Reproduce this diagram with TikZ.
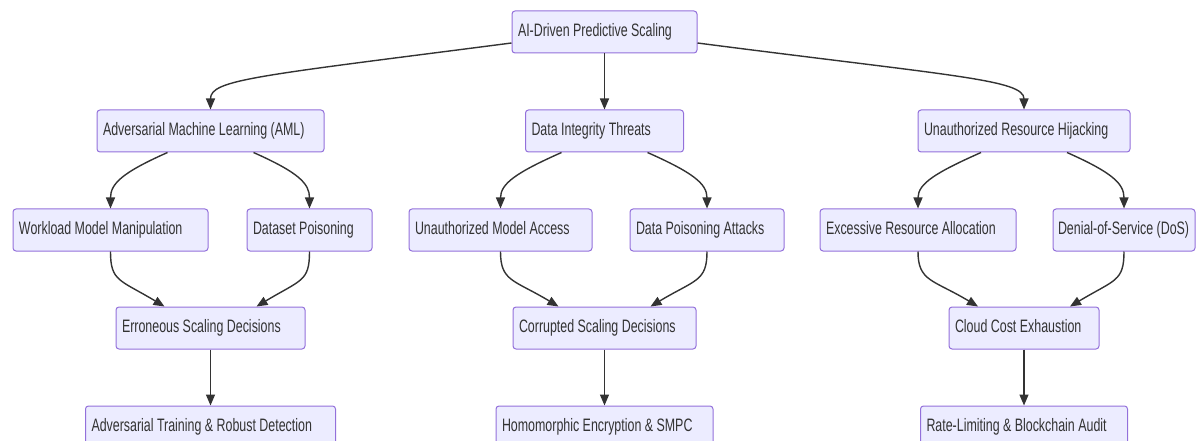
\documentclass[tikz,border=0pt]{standalone}
\usepackage{fontspec}
\setmainfont{Liberation Sans}[FakeStretch=0.69]
\usepackage{tikz}
\usetikzlibrary{arrows.meta,positioning}
\definecolor{boxfill}{HTML}{ECECFF}
\definecolor{boxline}{HTML}{9370DB}
\definecolor{edgegray}{HTML}{333333}

\begin{document}
\begin{tikzpicture}[
    node distance=56pt,
    block/.style={draw=boxline, fill=boxfill, line width=1pt, rounded corners=3pt,
                  text width=#1, align=flush left, inner xsep=6pt, inner ysep=0pt,
                  text height=13pt, text depth=4pt, minimum height=42pt,
                  font=\fontsize{18}{21}\selectfont, text=edgegray},
    arrow/.style={-{Triangle[length=11pt,width=9pt]}, line width=1.4pt, draw=edgegray},
]
\useasboundingbox (0,0) rectangle (1203pt,-441pt);

\node[block=173pt] at (604.5pt,-32pt) (top) {AI-Driven Predictive Scaling};
\node[block=215pt, below=of top, xshift=-394pt] (aml) {Adversarial Machine Learning (AML)};
\node[block=146pt, below=of top] (dit) {Data Integrity Threats};
\node[block=200pt, below=of top, xshift=419.5pt] (urh) {Unauthorized Resource Hijacking};

\node[block=183pt, below=of aml, xshift=-100pt] (wmm) {Workload Model Manipulation};
\node[block=113pt, below=of aml, xshift=99pt] (dp) {Dataset Poisoning};
\node[block=171pt, below=of dit, xshift=-104pt] (uma) {Unauthorized Model Access};
\node[block=142pt, below=of dit, xshift=102.5pt] (dpa) {Data Poisoning Attacks};
\node[block=184pt, below=of urh, xshift=-106pt] (era) {Excessive Resource Allocation};
\node[block=132pt, below=of urh, xshift=100pt, inner xsep=5pt] (dos) {Denial-of-Service (DoS)};

\node[block=177pt, below=154pt of aml] (err) {Erroneous Scaling Decisions};
\node[block=171pt, below=154pt of dit] (csd) {Corrupted Scaling Decisions};
\node[block=138pt, below=154pt of urh] (cce) {Cloud Cost Exhaustion};

\node[block=238pt, below=of err] (atr) {Adversarial Training \& Robust Detection};
\node[block=205pt, below=of csd] (hes) {Homomorphic Encryption \& SMPC};
\node[block=195pt, below=of cce] (rlb) {Rate-Limiting \& Blockchain Audit};

% top level
\draw[arrow] ([yshift=-11pt]top.west) .. controls +(-255pt,-33pt) and +(0pt,30pt) .. (aml.north);
\draw[arrow] (top) -- (dit);
\draw[arrow] ([yshift=-11pt]top.east) .. controls +(255pt,-33pt) and +(0pt,30pt) .. (urh.north);

% threat categories
\draw[arrow] ([xshift=-43pt]aml.south) .. controls +(-45pt,-20pt) and +(0pt,25pt) .. (wmm.north);
\draw[arrow] ([xshift=43pt]aml.south) .. controls +(45pt,-20pt) and +(0pt,25pt) .. (dp.north);
\draw[arrow] ([xshift=-43pt]dit.south) .. controls +(-45pt,-20pt) and +(0pt,25pt) .. (uma.north);
\draw[arrow] ([xshift=43pt]dit.south) .. controls +(45pt,-20pt) and +(0pt,25pt) .. (dpa.north);
\draw[arrow] ([xshift=-43pt]urh.south) .. controls +(-45pt,-20pt) and +(0pt,25pt) .. (era.north);
\draw[arrow] ([xshift=43pt]urh.south) .. controls +(45pt,-20pt) and +(0pt,25pt) .. (dos.north);

% effects
\draw[arrow] (wmm.south) .. controls +(0pt,-30pt) and +(-45pt,27pt) .. ([xshift=-46pt]err.north);
\draw[arrow] (dp.south) .. controls +(0pt,-30pt) and +(45pt,27pt) .. ([xshift=46pt]err.north);
\draw[arrow] (uma.south) .. controls +(0pt,-30pt) and +(-45pt,27pt) .. ([xshift=-46pt]csd.north);
\draw[arrow] (dpa.south) .. controls +(0pt,-30pt) and +(45pt,27pt) .. ([xshift=46pt]csd.north);
\draw[arrow] (era.south) .. controls +(0pt,-30pt) and +(-45pt,27pt) .. ([xshift=-46pt]cce.north);
\draw[arrow] (dos.south) .. controls +(0pt,-30pt) and +(45pt,27pt) .. ([xshift=46pt]cce.north);

% countermeasures
\draw[arrow] (err) -- (atr);
\draw[arrow] (csd) -- (hes);
\draw[arrow] (cce) -- (rlb);
\end{tikzpicture}
\end{document}
